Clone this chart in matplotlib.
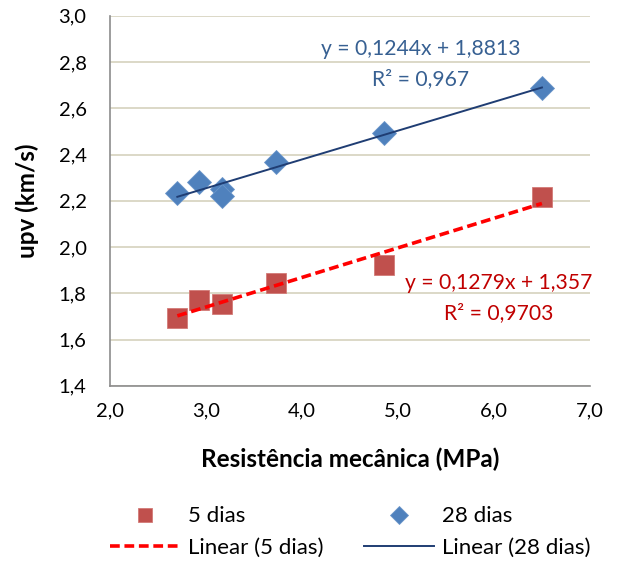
import matplotlib
matplotlib.use("Agg")
import matplotlib.pyplot as plt
import numpy as np
from matplotlib.ticker import FuncFormatter, MultipleLocator

plt.rcParams['font.family'] = ['Lato', 'DejaVu Sans']

# Data
x5 = [2.70, 2.93, 3.17, 3.73, 4.85, 6.50]
y5 = [1.693, 1.770, 1.752, 1.843, 1.923, 2.215]
x28 = [2.70, 2.93, 3.17, 3.17, 3.73, 4.85, 6.50]
y28 = [2.235, 2.282, 2.252, 2.222, 2.369, 2.494, 2.689]
fit5 = (0.1279, 1.357)
fit28 = (0.1244, 1.8813)
eq5 = ["y = 0,1279x + 1,357", "R² = 0,9703"]
eq28 = ["y = 0,1244x + 1,8813", "R² = 0,967"]

fig = plt.figure(figsize=(6.19, 5.64), dpi=100)
ax = fig.add_axes([0.178, 0.316, 0.775, 0.656])

ax.set_xlim(2.0, 7.0)
ax.set_ylim(1.4, 3.0)
ax.yaxis.set_major_locator(MultipleLocator(0.2))
ax.xaxis.set_major_locator(MultipleLocator(1.0))
fmt = FuncFormatter(lambda v, p: f"{v:.1f}".replace('.', ','))
ax.xaxis.set_major_formatter(fmt)
ax.yaxis.set_major_formatter(fmt)
ax.grid(axis='y', color='#d9d5c3', linewidth=1.3)
ax.set_axisbelow(True)
for s in ['top', 'right']:
    ax.spines[s].set_visible(False)
for s in ['left', 'bottom']:
    ax.spines[s].set_color('#8c8c8c')
    ax.spines[s].set_linewidth(1.2)
ax.tick_params(axis='both', length=0, labelsize=14.5)
ax.tick_params(axis='x', pad=12)
ax.tick_params(axis='y', pad=17)

h5, = ax.plot(x5, y5, 's', color='#c0504d', markersize=14, linestyle='none',
              markeredgecolor='#d27a77', markeredgewidth=0.6, label='5 dias', zorder=3)
h28, = ax.plot(x28, y28, 'D', color='#4f81bd', markersize=12, linestyle='none',
               markeredgecolor='#6a95c9', markeredgewidth=0.6, label='28 dias', zorder=3)

xl5 = np.array([min(x5), max(x5)])
xl28 = np.array([min(x28), max(x28)])
l5, = ax.plot(xl5, fit5[0] * xl5 + fit5[1], color='#ff0000', linewidth=2.6,
              linestyle=(0, (2.7, 1.3)), label='Linear (5 dias)', zorder=4)
l28, = ax.plot(xl28, fit28[0] * xl28 + fit28[1], color='#1f3d73', linewidth=1.4,
               label='Linear (28 dias)', zorder=4)

ax.text(5.24, 2.855, eq28[0], color='#376092', fontsize=15.2, ha='center', va='center')
ax.text(5.24, 2.726, eq28[1], color='#376092', fontsize=15.2, ha='center', va='center')
ax.text(6.05, 1.845, eq5[0], color='#c00000', fontsize=15.2, ha='center', va='center')
ax.text(6.05, 1.716, eq5[1], color='#c00000', fontsize=15.2, ha='center', va='center')

ax.set_xlabel('Resistência mecânica (MPa)', fontsize=17.5, fontweight='bold', labelpad=20)
ax.set_ylabel('upv (km/s)', fontsize=17.5, fontweight='bold', labelpad=14)

fig.legend(handles=[h5, l5, h28, l28], ncol=2, loc='center left',
           bbox_to_anchor=(0.178, 0.057), frameon=False, fontsize=16,
           borderpad=0, borderaxespad=0,
           handlelength=3.15, columnspacing=1.8, handletextpad=0.36,
           labelspacing=0.5, markerscale=0.77)

fig.savefig('out.png', dpi=100)
